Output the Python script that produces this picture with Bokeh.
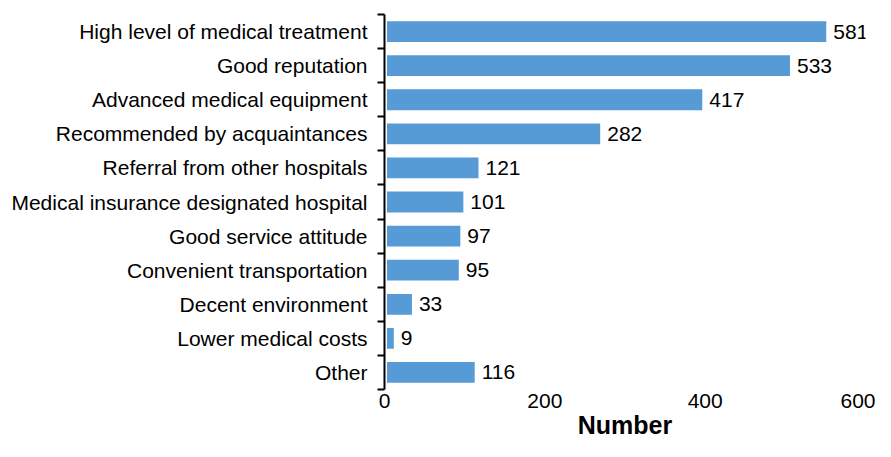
from bokeh.plotting import figure
from bokeh.models import ColumnDataSource, Range1d, LinearAxis, FixedTicker
from bokeh.core.properties import value
from bokeh.embed import file_html
from bokeh.resources import INLINE

categories = ["High level of medical treatment", "Good reputation",
              "Advanced medical equipment", "Recommended by acquaintances",
              "Referral from other hospitals", "Medical insurance designated hospital",
              "Good service attitude", "Convenient transportation",
              "Decent environment", "Lower medical costs", "Other"]
values = [581, 533, 417, 282, 121, 101, 97, 95, 33, 9, 116]
x_ticks = [0, 200, 400, 600]
x_title = "Number"

FONT = "Liberation Sans"
n = len(categories)
ys = [n - i - 0.5 for i in range(n)]

src = ColumnDataSource(dict(y=ys, v=values, lbl=[str(v) for v in values], cat=categories))

p = figure(width=875, height=441, x_range=Range1d(-3.3, 632.9), y_range=Range1d(0, n),
           output_backend="svg", toolbar_location=None, x_axis_location=None)
p.min_border_left = 384
p.min_border_top = 14
p.min_border_right = 10
p.min_border_bottom = 0
p.outline_line_color = None
p.xgrid.visible = False
p.ygrid.visible = False
p.background_fill_color = "white"

p.hbar(y="y", right="v", left=0, height=0.61, source=src,
       fill_color="#569BD6", line_color=None)
p.text(x="v", y="y", text="lbl", source=src, x_offset=7, text_baseline="middle",
       text_font=value(FONT), text_font_size="21px", text_color="black")

ya = p.yaxis[0]
ya.ticker = FixedTicker(ticks=ys, minor_ticks=list(range(n + 1)))
ya.major_label_overrides = {y: c for y, c in zip(ys, categories)}
ya.major_tick_out = 0
ya.major_tick_in = 0
ya.minor_tick_out = 7
ya.minor_tick_in = 0
ya.minor_tick_line_width = 2
ya.minor_tick_line_color = "black"
ya.axis_line_width = 2
ya.axis_line_color = "black"
ya.major_label_standoff = 10
ya.major_label_text_font = FONT
ya.major_label_text_font_size = "21px"
ya.major_label_text_color = "black"

p.extra_x_ranges = {"ax": Range1d(-0.01, 600.01)}
xa = LinearAxis(x_range_name="ax", ticker=FixedTicker(ticks=x_ticks))
xa.axis_line_color = None
xa.major_tick_line_color = None
xa.major_tick_out = 0
xa.major_tick_in = 0
xa.minor_tick_line_color = None
xa.minor_tick_out = 0
xa.minor_tick_in = 0
xa.major_label_standoff = 4
xa.major_label_text_font = FONT
xa.major_label_text_font_size = "21px"
xa.major_label_text_color = "black"
xa.axis_label = x_title
xa.axis_label_text_font = FONT
xa.axis_label_text_font_size = "25px"
xa.axis_label_text_font_style = "bold"
xa.axis_label_text_color = "black"
xa.axis_label_standoff = 0
p.add_layout(xa, "below")

open("out.html", "w").write(file_html(p, INLINE))
